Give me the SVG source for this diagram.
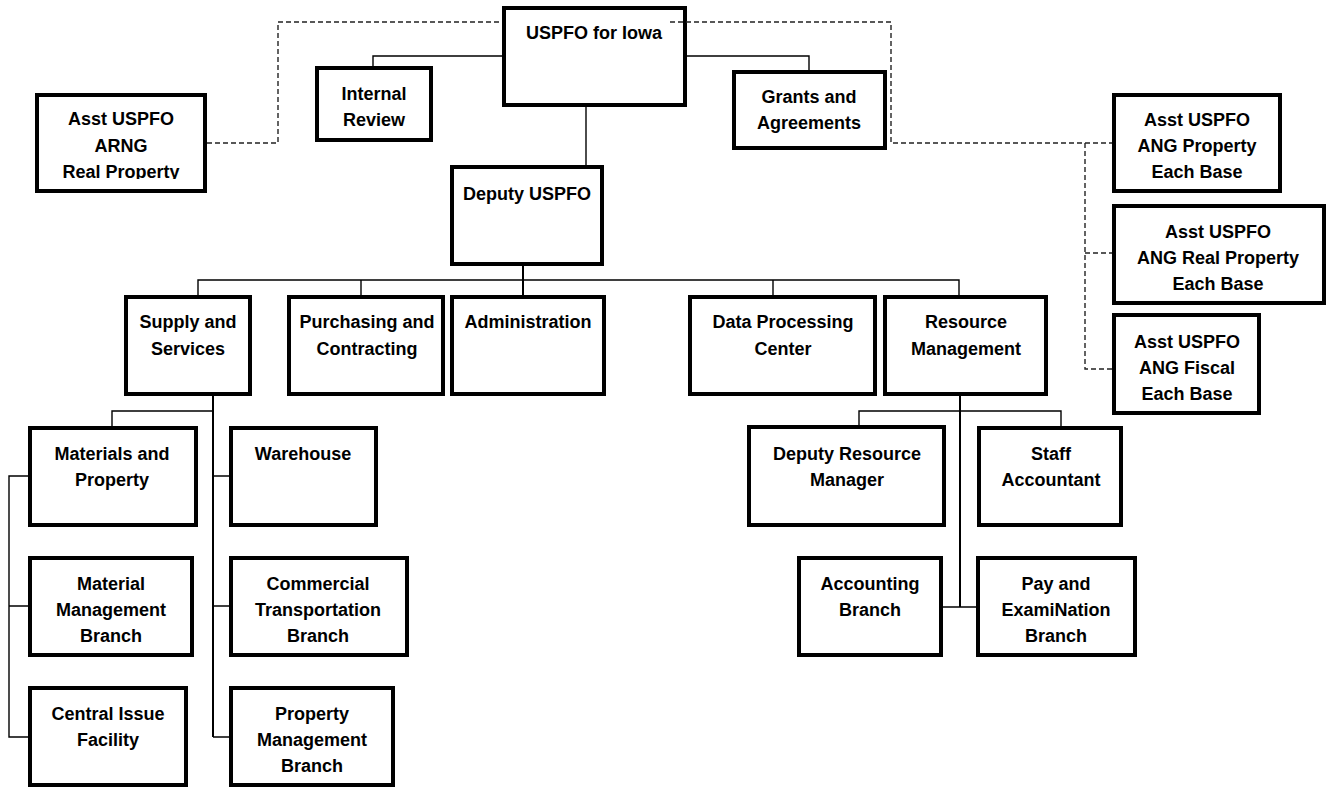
<svg xmlns="http://www.w3.org/2000/svg" width="1327" height="787" viewBox="0 0 1327 787">
<style>
.box{fill:#fff;stroke:#000;stroke-width:4}
.t{font-family:"Liberation Sans",Arial,sans-serif;font-weight:bold;font-size:18px;fill:#000;text-anchor:middle}
.c{fill:none;stroke:#000;stroke-width:1.4}
.c2{fill:none;stroke:#000;stroke-width:2}
.d{fill:none;stroke:#222;stroke-width:1.4;stroke-dasharray:5 3}
</style>
<defs>
<clipPath id="clipArng"><rect x="37" y="95" width="168" height="84"/></clipPath>
</defs>
<rect width="1327" height="787" fill="#fff"/>
<g id="n-asst-arng"><rect class="box" x="37" y="95" width="168" height="96"/><g clip-path="url(#clipArng)"><text class="t" x="121" y="125">Asst USPFO</text><text class="t" x="121" y="152">ARNG</text><text class="t" x="121" y="178">Real Property</text></g></g>
<g id="n-internal-review"><rect class="box" x="317" y="68" width="114" height="72"/><text class="t" x="374" y="100">Internal</text><text class="t" x="374" y="126">Review</text></g>
<g id="n-uspfo"><rect class="box" x="504" y="8" width="181" height="97"/><text class="t" x="594" y="39">USPFO for Iowa</text></g>
<g id="n-grants"><rect class="box" x="734" y="72" width="151" height="76"/><text class="t" x="809" y="103">Grants and</text><text class="t" x="809" y="129">Agreements</text></g>
<g id="n-ang-property"><rect class="box" x="1114" y="95" width="166" height="96"/><text class="t" x="1197" y="126">Asst USPFO</text><text class="t" x="1197" y="152">ANG Property</text><text class="t" x="1197" y="178">Each Base</text></g>
<g id="n-ang-real-property"><rect class="box" x="1114" y="206" width="210" height="97"/><text class="t" x="1218" y="238">Asst USPFO</text><text class="t" x="1218" y="264">ANG Real Property</text><text class="t" x="1218" y="290">Each Base</text></g>
<g id="n-ang-fiscal"><rect class="box" x="1114" y="315" width="145" height="98"/><text class="t" x="1187" y="348">Asst USPFO</text><text class="t" x="1187" y="374">ANG Fiscal</text><text class="t" x="1187" y="400">Each Base</text></g>
<g id="n-deputy"><rect class="box" x="452" y="167" width="150" height="97"/><text class="t" x="527" y="200">Deputy USPFO</text></g>
<g id="n-supply"><rect class="box" x="126" y="297" width="124" height="97"/><text class="t" x="188" y="328">Supply and</text><text class="t" x="188" y="355">Services</text></g>
<g id="n-purchasing"><rect class="box" x="289" y="297" width="154" height="97"/><text class="t" x="367" y="328">Purchasing and</text><text class="t" x="367" y="355">Contracting</text></g>
<g id="n-admin"><rect class="box" x="452" y="297" width="152" height="97"/><text class="t" x="528" y="328">Administration</text></g>
<g id="n-data"><rect class="box" x="690" y="297" width="185" height="97"/><text class="t" x="783" y="328">Data Processing</text><text class="t" x="783" y="355">Center</text></g>
<g id="n-resource"><rect class="box" x="885" y="297" width="161" height="97"/><text class="t" x="966" y="328">Resource</text><text class="t" x="966" y="355">Management</text></g>
<g id="n-materials"><rect class="box" x="30" y="428" width="166" height="97"/><text class="t" x="112" y="460">Materials and</text><text class="t" x="112" y="486">Property</text></g>
<g id="n-warehouse"><rect class="box" x="231" y="428" width="145" height="97"/><text class="t" x="303" y="460">Warehouse</text></g>
<g id="n-mat-mgmt"><rect class="box" x="30" y="558" width="162" height="97"/><text class="t" x="111" y="590">Material</text><text class="t" x="111" y="616">Management</text><text class="t" x="111" y="642">Branch</text></g>
<g id="n-commercial"><rect class="box" x="231" y="558" width="176" height="97"/><text class="t" x="318" y="590">Commercial</text><text class="t" x="318" y="616">Transportation</text><text class="t" x="318" y="642">Branch</text></g>
<g id="n-central"><rect class="box" x="30" y="688" width="156" height="97"/><text class="t" x="108" y="720">Central Issue</text><text class="t" x="108" y="746">Facility</text></g>
<g id="n-prop-mgmt"><rect class="box" x="231" y="688" width="162" height="97"/><text class="t" x="312" y="720">Property</text><text class="t" x="312" y="746">Management</text><text class="t" x="312" y="772">Branch</text></g>
<g id="n-dep-res"><rect class="box" x="749" y="427" width="195" height="98"/><text class="t" x="847" y="460">Deputy Resource</text><text class="t" x="847" y="486">Manager</text></g>
<g id="n-staff"><rect class="box" x="979" y="428" width="142" height="97"/><text class="t" x="1051" y="460">Staff</text><text class="t" x="1051" y="486">Accountant</text></g>
<g id="n-accounting"><rect class="box" x="799" y="558" width="142" height="97"/><text class="t" x="870" y="590">Accounting</text><text class="t" x="870" y="616">Branch</text></g>
<g id="n-pay"><rect class="box" x="978" y="558" width="157" height="97"/><text class="t" x="1056" y="590">Pay and</text><text class="t" x="1056" y="616">ExamiNation</text><text class="t" x="1056" y="642">Branch</text></g>
<g id="connectors">
<path class="d" d="M207,143 H278 V22 H502"/>
<path class="d" d="M670,22 H891 V143 H1112"/>
<path class="d" d="M1085,143 V369 H1112 M1085,253 H1112"/>
<path class="c" d="M373,66 V56 H502"/>
<path class="c" d="M687,56 H809 V70"/>
<path class="c" d="M586,107 V165"/>
<path class="c2" d="M523,266 V295"/>
<path class="c" d="M198,295 V280 H959 V295 M361,280 V295 M773,280 V295"/>
<path class="c2" d="M213,396 V737"/>
<path class="c" d="M112,426 V411 H213 M213,476 H229 M213,606 H229 M213,737 H229"/>
<path class="c" d="M28,476 H9 V737 H28 M9,606 H28"/>
<path class="c2" d="M960,396 V607"/>
<path class="c" d="M859,425 V411 H1061 V426 M943,607 H976"/>
</g>
</svg>
